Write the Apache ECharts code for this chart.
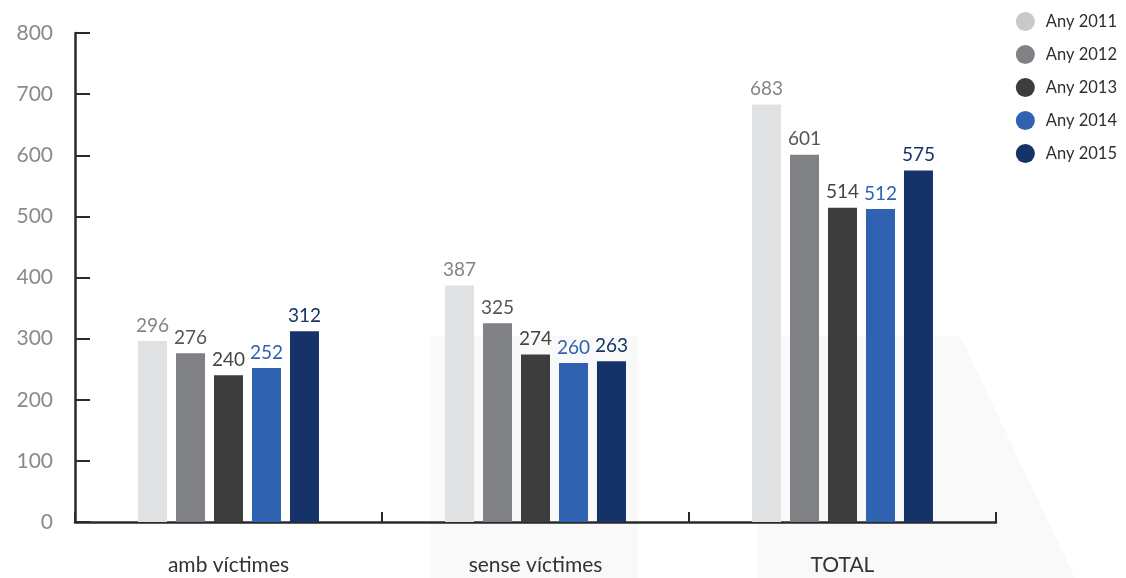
<!DOCTYPE html>
<html>
<head>
<meta charset="utf-8">
<script src="https://cdn.jsdelivr.net/npm/echarts@6/dist/echarts.min.js"></script>
<style>
  html, body { margin: 0; padding: 0; background: #fff; }
  #chart { width: 1126px; height: 578px; }
</style>
</head>
<body>
<div id="chart"></div>
<script>
var categories = ['amb víctimes', 'sense víctimes', 'TOTAL'];
var seriesNames = ['Any 2011', 'Any 2012', 'Any 2013', 'Any 2014', 'Any 2015'];
var any2011 = [296, 387, 683];
var any2012 = [276, 325, 601];
var any2013 = [240, 274, 514];
var any2014 = [252, 260, 512];
var any2015 = [312, 263, 575];
var yTicks = [0, 100, 200, 300, 400, 500, 600, 700, 800];

var barColors = ['#e0e1e3', '#808184', '#3d3d3d', '#2f62b0', '#163369'];
var labelColors = ['#848484', '#555555', '#444444', '#2f62b0', '#163369'];
var legendColors = ['#c8c9c9', '#808184', '#3d3d3d', '#2f62b0', '#163369'];
var fontFam = 'Lato, "Open Sans", sans-serif';

var allValues = [any2011, any2012, any2013, any2014, any2015];

var chart = echarts.init(document.getElementById('chart'));

var series = seriesNames.map(function (name, i) {
    return {
        name: name,
        type: 'bar',
        data: allValues[i],
        barWidth: 29,
        barGap: '31%',
        itemStyle: { color: barColors[i] },
        label: {
            show: true,
            position: 'top',
            distance: 6,
            color: labelColors[i],
            fontSize: 19,
            fontFamily: fontFam
        }
    };
});

var option = {
    animation: false,
    backgroundColor: '#ffffff',
    color: legendColors,
    graphic: [
        {
            type: 'polygon',
            z: -10,
            shape: { points: [[431, 336], [638, 336], [638, 578], [431, 578]] },
            style: { fill: '#f9f9f9' }
        },
        {
            type: 'polygon',
            z: -10,
            shape: { points: [[757, 336], [960, 336], [1075, 578], [757, 578]] },
            style: { fill: '#f9f9f9' }
        }
    ],
    legend: {
        orient: 'vertical',
        right: 4,
        top: 7,
        itemGap: 14,
        itemWidth: 19,
        itemHeight: 19,
        icon: 'circle',
        data: seriesNames.map(function (n, i) {
            return { name: n, itemStyle: { color: legendColors[i] } };
        }),
        textStyle: { color: '#2e2e2e', fontSize: 16.5, fontFamily: fontFam, padding: [0, 0, 0, 6] }
    },
    grid: {
        left: 75,
        right: 130,
        top: 33,
        bottom: 56,
        containLabel: false
    },
    xAxis: {
        type: 'category',
        data: categories,
        axisLine: { lineStyle: { color: '#2a2a2a', width: 2.5 } },
        axisTick: {
            show: true,
            inside: true,
            length: 10,
            lineStyle: { color: '#2a2a2a', width: 2 }
        },
        axisLabel: {
            margin: 33,
            color: '#333',
            fontSize: 21,
            fontFamily: fontFam
        }
    },
    yAxis: {
        type: 'value',
        min: yTicks[0],
        max: yTicks[yTicks.length - 1],
        interval: 100,
        axisLine: { show: true, lineStyle: { color: '#2a2a2a', width: 2.5 } },
        axisTick: {
            show: true,
            inside: true,
            length: 15,
            lineStyle: { color: '#2a2a2a', width: 2 }
        },
        splitLine: { show: false },
        axisLabel: {
            margin: 22,
            color: '#8a8a8a',
            fontSize: 21,
            fontFamily: fontFam
        }
    },
    series: series
};

chart.setOption(option);
</script>
</body>
</html>
